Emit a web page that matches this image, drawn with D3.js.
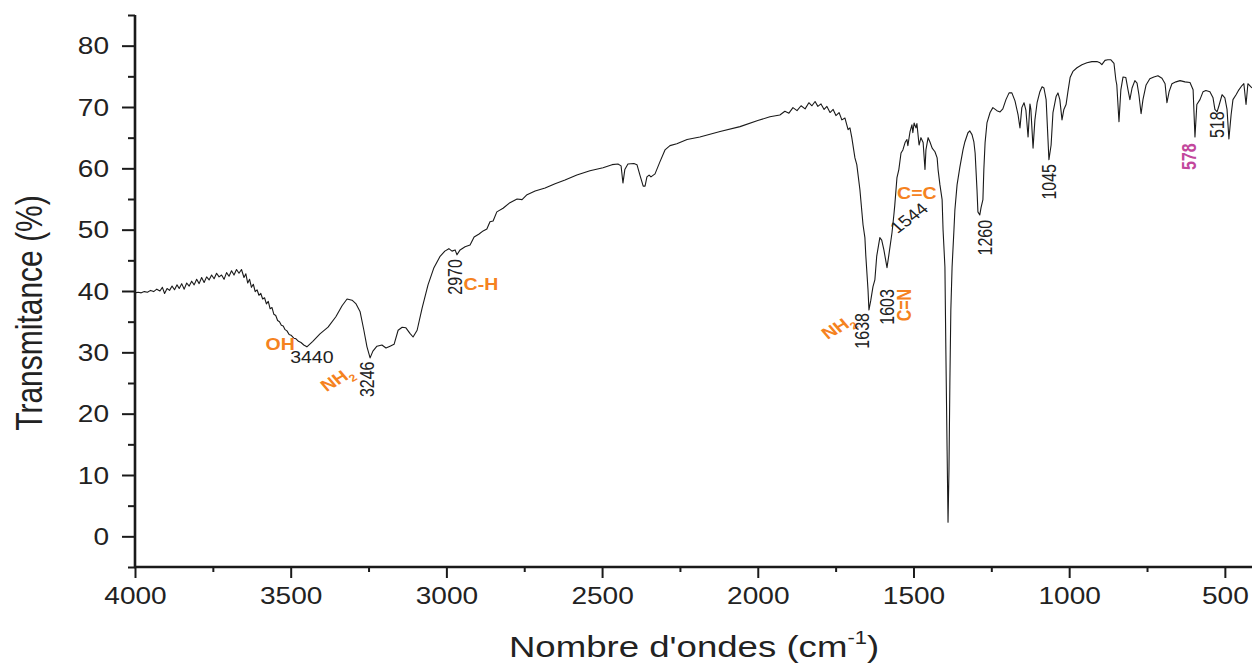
<!DOCTYPE html>
<html><head><meta charset="utf-8">
<script src="https://cdn.jsdelivr.net/npm/d3@7"></script>
<style>
html,body{margin:0;padding:0;background:#fff;}
svg{display:block;font-family:"Liberation Sans",Arial,sans-serif;}
</style></head>
<body>
<svg id="chart" width="1252" height="664"></svg>
<script>
// Wavenumber (cm-1)
const wavenumbers = [4000,3990,3980,3970,3960,3950,3940,3930,3920,3912,3905,3897,3889,3881,3873,3865,3858,3850,3842,3834,3826,3818,3810,3802,3794,3786,3778,3770,3762,3754,3746,3738,3730,3722,3714,3706,3698,3690,3682,3674,3666,3658,3650,3644,3638,3632,3626,3620,3614,3608,3602,3596,3590,3584,3578,3572,3566,3560,3554,3548,3542,3536,3530,3524,3518,3512,3505,3499,3490,3483,3475,3467,3458,3448,3429,3406,3380,3355,3335,3319,3303,3290,3277,3265,3255,3245,3236,3223,3207,3194,3181,3168,3155,3142,3130,3117,3107,3094,3078,3059,3040,3021,3005,2992,2982,2972,2966,2956,2940,2924,2911,2895,2882,2870,2860,2850,2838,2818,2796,2773,2757,2741,2715,2683,2651,2619,2581,2539,2497,2468,2449,2439,2433,2427,2417,2398,2388,2378,2368,2362,2356,2349,2343,2330,2314,2298,2282,2260,2227,2186,2121,2057,2000,1961,1929,1913,1900,1887,1874,1861,1848,1836,1826,1816,1807,1797,1787,1778,1768,1758,1749,1739,1730,1720,1710,1704,1698,1688,1682,1672,1662,1656,1653,1646,1643,1637,1630,1624,1618,1608,1602,1595,1585,1579,1569,1563,1560,1553,1547,1540,1534,1527,1521,1518,1511,1505,1502,1498,1492,1489,1482,1476,1469,1463,1460,1453,1447,1440,1431,1424,1421,1415,1408,1405,1399,1396,1392,1389,1386,1383,1380,1376,1370,1367,1360,1351,1341,1335,1325,1319,1312,1306,1302,1296,1293,1287,1283,1277,1274,1270,1264,1254,1245,1232,1222,1213,1203,1193,1184,1174,1164,1158,1152,1145,1139,1132,1126,1123,1116,1110,1103,1094,1087,1081,1074,1068,1065,1058,1052,1042,1036,1030,1023,1017,1010,1004,997,988,975,959,943,927,911,901,895,885,876,866,856,850,847,840,834,827,818,811,805,798,789,782,776,769,763,753,741,728,715,702,692,686,679,670,657,644,628,612,602,596,590,580,570,561,548,538,532,525,519,509,500,493,487,480,474,464,455,445,439,432,426,420,413];
// Transmittance (%)
const transmittance = [39.7,39.8,39.7,39.9,39.8,40.1,39.9,40.3,40.0,40.6,39.6,40.4,40.1,40.8,40.2,41.0,40.4,41.2,40.3,41.3,40.8,41.6,41.0,41.9,41.2,42.2,41.4,42.3,41.8,42.6,42.0,42.9,42.3,42.6,41.9,43.0,42.4,43.3,42.6,43.5,42.9,43.5,42.2,42.8,41.3,41.9,40.6,41.1,39.9,40.2,39.3,39.6,38.7,38.9,37.9,38.3,37.1,37.3,36.2,36.0,35.2,35.0,34.4,34.3,33.7,33.5,32.9,32.8,32.3,32.2,31.8,31.6,31.2,30.9,31.8,33.0,34.1,35.8,37.6,38.7,38.5,37.9,36.6,33.6,30.9,29.1,30.2,31.0,31.2,30.7,31.0,31.3,33.6,34.1,34.0,33.1,32.5,33.6,37.2,41.0,43.8,45.6,46.5,46.9,46.5,46.7,45.9,46.7,47.2,47.5,48.8,49.3,49.8,50.1,51.3,51.4,52.9,53.5,54.4,55.0,54.9,55.7,56.3,56.8,57.5,58.1,58.9,59.6,60.1,60.6,60.7,60.4,57.6,59.8,60.7,60.8,60.6,58.8,57.1,57.1,58.6,58.9,58.6,59.1,61.1,63.0,63.7,64.0,64.7,65.1,66.0,66.8,67.8,68.4,68.7,69.3,69.0,69.9,69.4,70.2,69.7,70.7,70.2,70.9,70.1,70.5,69.6,70.1,69.1,69.6,68.6,69.1,67.9,68.2,66.3,66.6,65.0,61.7,60.6,56.5,50.8,48.7,45.7,40.2,36.9,38.5,40.7,41.8,45.7,48.7,48.3,46.7,43.8,45.9,49.5,52.4,54.0,58.5,59.8,62.5,63.0,64.2,64.7,63.7,66.0,67.1,65.8,67.4,66.6,67.3,63.8,65.0,64.2,59.8,63.0,65.0,64.3,63.3,62.7,61.7,59.8,57.3,54.9,50.0,43.9,30.4,14.0,2.3,10.8,25.5,36.9,43.9,50.0,53.2,57.3,60.2,63.0,64.3,65.8,66.1,65.5,64.3,62.5,56.5,52.9,52.4,53.6,54.9,59.8,64.2,67.4,69.1,69.9,69.4,69.2,69.7,71.2,72.3,72.3,71.0,68.7,66.6,69.9,70.7,69.5,65.1,70.5,69.6,63.3,67.9,70.7,72.5,73.3,73.1,71.2,64.7,61.4,63.8,69.1,71.7,72.3,71.2,67.9,69.6,70.4,72.5,74.8,75.8,76.4,76.9,77.2,77.4,77.4,77.2,76.9,77.6,77.7,77.7,77.1,74.4,73.6,67.6,72.8,74.9,74.8,72.8,71.2,73.1,74.3,73.9,72.0,68.9,71.2,73.6,74.6,74.9,75.1,74.7,73.8,70.7,72.5,73.8,74.1,74.3,74.1,74.0,72.8,65.1,70.4,71.2,72.5,72.7,72.5,71.5,69.6,69.2,70.2,72.0,71.5,69.6,64.8,68.7,71.2,72.0,72.8,73.5,73.8,70.4,73.8,73.5,73.1];

const xMajorTicks = [4000,3500,3000,2500,2000,1500,1000,500];
const xMinorTicks = [3750,3250,2750,2250,1750,1250,750];
const yMajorTicks = [0,10,20,30,40,50,60,70,80];
const yMinorTicks = [-5,5,15,25,35,45,55,65,75,85];

// Peak annotations: text, wavenumber, transmittance at label centre, kind
const annoText  = ["OH","3440","NH","3246","2970","C-H","NH","1638","1603","C=N","C=C","1544","1260","1045","578","518"];
const annoWn    = [3534,3432,3351,3252,2972,2889,1742,1665,1585,1530,1489,1514,1270,1062,615,525];
const annoT     = [31.2,29.1,25.6,25.6,42.3,41.0,34.1,33.5,37.4,37.7,55.8,51.9,48.7,57.8,61.9,67.1];
const annoKind  = ["group","num","group2","num","num","group","group2","num","num","group","group","num","num","num","pink","num"];
const annoAngle = [0,0,-35,-90,-90,0,-35,-90,-90,-90,0,-42,-90,-90,-90,-90];

const SX = 1.22; // horizontal stretch of the original figure's text
const svg = d3.select("#chart");
const x = d3.scaleLinear().domain([4000,400]).range([135,1256]);
const y = d3.scaleLinear().domain([-5,85]).range([567,15]);

// spectrum
const pts = wavenumbers.map((w,i)=>[w,transmittance[i]]);
svg.append("defs").append("clipPath").attr("id","clip").append("rect")
  .attr("x",135).attr("y",0).attr("width",1117).attr("height",567);
svg.append("path").datum(pts)
  .attr("clip-path","url(#clip)")
  .attr("fill","none").attr("stroke","#1a1a1a").attr("stroke-width",1.1)
  .attr("stroke-linejoin","round")
  .attr("d", d3.line().x(d=>x(d[0])).y(d=>y(d[1])));

// axes
const gx = svg.append("g").attr("transform","translate(0,567)");
gx.call(d3.axisBottom(x).tickValues(xMajorTicks).tickSize(11).tickSizeOuter(0).tickFormat(d3.format("d")));
const gxm = svg.append("g").attr("transform","translate(0,567)");
gxm.call(d3.axisBottom(x).tickValues(xMinorTicks).tickSize(5).tickSizeOuter(0).tickFormat(""));
const gy = svg.append("g").attr("transform","translate(135,0)");
gy.call(d3.axisLeft(y).tickValues(yMajorTicks).tickSize(13).tickSizeOuter(0));
const gym = svg.append("g").attr("transform","translate(135,0)");
gym.call(d3.axisLeft(y).tickValues(yMinorTicks).tickSize(7).tickSizeOuter(0).tickFormat(""));
[gxm,gym].forEach(g=>g.select(".domain").remove());
svg.selectAll(".tick line").attr("stroke","#1a1a1a").attr("stroke-width",2);
gx.select(".domain").attr("stroke","#1a1a1a").attr("stroke-width",2.6).attr("d","M134,0H1252");
gy.select(".domain").attr("stroke","#1a1a1a").attr("stroke-width",2.6).attr("d","M0,15V568");
gx.selectAll(".tick text").attr("y",0).attr("dy",0)
  .attr("transform",`translate(0,37) scale(${SX},1)`)
  .attr("font-size",23).attr("fill","#222").attr("font-family","Liberation Sans, Arial, sans-serif");
gy.selectAll(".tick text").attr("x",0).attr("dy","0.36em")
  .attr("transform",`translate(-26,0) scale(${SX},1)`)
  .attr("font-size",23).attr("fill","#222").attr("font-family","Liberation Sans, Arial, sans-serif");

// axis titles
const xt = svg.append("text").attr("text-anchor","middle")
  .attr("transform",`translate(694,657) scale(${SX},1)`)
  .attr("font-size",30).attr("fill","#222");
xt.append("tspan").text("Nombre d'ondes (cm");
xt.append("tspan").text("-1").attr("font-size",18).attr("dy",-13);
xt.append("tspan").text(")").attr("dy",13);

svg.append("text").attr("text-anchor","middle")
  .attr("transform",`translate(42,313) scale(${SX},1) rotate(-90)`)
  .attr("font-size",30).attr("fill","#222").text("Transmitance (%)");

// annotations
annoText.forEach((t,i)=>{
  const k = annoKind[i];
  const g = svg.append("text")
    .attr("transform",`translate(${x(annoWn[i])},${y(annoT[i])}) scale(${SX},1) rotate(${annoAngle[i]})`)
    .attr("text-anchor","middle").attr("dominant-baseline","central");
  if (k==="num") {
    g.attr("font-size",16).attr("fill","#222").text(t);
  } else if (k==="pink") {
    g.attr("font-size",16).attr("font-weight","bold").attr("fill","#c2479c").text(t);
  } else {
    g.attr("font-size",16).attr("font-weight","bold").attr("fill","#f58220");
    g.append("tspan").text(t);
    if (k==="group2") g.append("tspan").text("2").attr("font-size",10).attr("dy",6);
  }
});
</script>
</body></html>
